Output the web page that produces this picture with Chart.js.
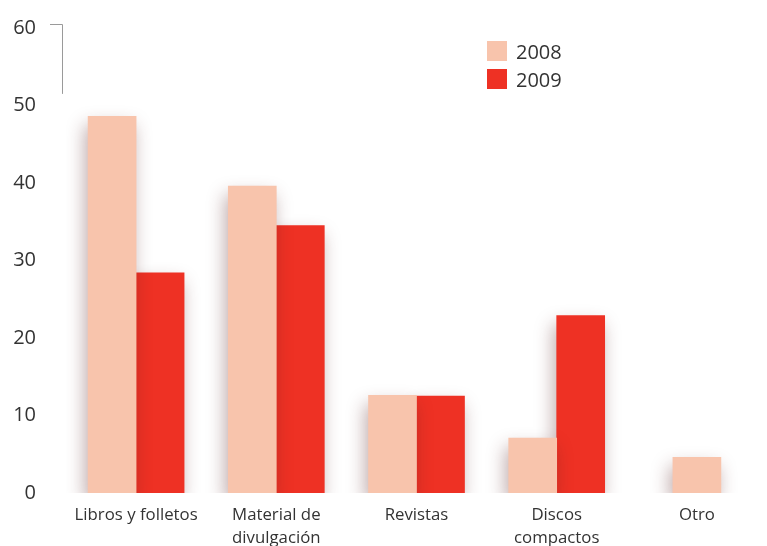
<!DOCTYPE html>
<html>
<head>
<meta charset="utf-8">
<script src="https://cdn.jsdelivr.net/npm/chart.js@4/dist/chart.umd.min.js"></script>
<style>
  body { margin: 0; background: #fff; font-family: "Open Sans", sans-serif; }
  #wrap { position: relative; width: 767px; height: 546px; }
  #legend { position: absolute; left: 487px; top: 37px; }
  .item { display: flex; align-items: center; height: 28px; font-size: 20px; color: #333; }
  .box { width: 20px; height: 20px; margin-right: 9px; }
</style>
</head>
<body>
<div id="wrap">
  <canvas id="barChart" width="767" height="546"></canvas>
  <div id="legend"></div>
</div>
<script>
let categories = ['Libros y folletos', ['Material de', 'divulgación'], 'Revistas', ['Discos', 'compactos'], 'Otro'];
let seriesNames = ['2008', '2009'];
let values2008 = [48.6, 39.6, 12.6, 7.1, 4.6];
let values2009 = [28.4, 34.5, 12.5, 22.9, null];
let yTicks = [0, 10, 20, 30, 40, 50, 60];
let colors = ['#f8c4ac', '#ee3124'];

// soft shadow under the bars
let shadowPlugin = {
  id: 'shadow',
  beforeDatasetsDraw(chart) {
    let ctx = chart.ctx;
    ctx.save();
    ctx.shadowColor = 'rgba(90, 35, 35, 0.38)';
    ctx.shadowBlur = 18;
    ctx.shadowOffsetX = -3;
    ctx.shadowOffsetY = 9;
  },
  afterDatasetsDraw(chart) {
    chart.ctx.restore();
  }
};

// short axis stub at the top left
let stubPlugin = {
  id: 'stub',
  afterDraw(chart) {
    let ctx = chart.ctx;
    let y = chart.scales.y;
    let x = chart.chartArea.left - 4;
    let top = y.getPixelForValue(60) - 4;
    ctx.save();
    ctx.strokeStyle = '#9a9a9a';
    ctx.lineWidth = 1;
    ctx.beginPath();
    ctx.moveTo(x - 12, top + 0.5);
    ctx.lineTo(x + 0.5, top + 0.5);
    ctx.lineTo(x + 0.5, y.getPixelForValue(51.5));
    ctx.stroke();
    ctx.restore();
  }
};

let barData = {
  labels: categories,
  datasets: [
    { label: seriesNames[0], data: values2008, backgroundColor: colors[0] },
    { label: seriesNames[1], data: values2009, backgroundColor: colors[1] }
  ]
};

let barOptions = {
  responsive: false,
  animation: false,
  layout: { padding: { top: 28, right: 0, bottom: 0, left: 0 } },
  datasets: { bar: { barThickness: 48, barPercentage: 0.96, skipNull: true } },
  plugins: { legend: { display: false }, tooltip: { enabled: false } },
  scales: {
    x: {
      afterFit(scale) { scale.height = 53; },
      grid: { display: false },
      border: { display: false },
      ticks: {
        color: '#333',
        font: { family: 'Open Sans', size: 16.8, lineHeight: 1.35 },
        padding: 3,
        maxRotation: 0,
        autoSkip: false
      }
    },
    y: {
      min: 0,
      max: 60,
      afterBuildTicks(scale) { scale.ticks = yTicks.map(v => ({ value: v })); },
      afterFit(scale) { scale.width = 66; },
      grid: { display: false, drawTicks: true, tickLength: 30 },
      border: { display: false },
      ticks: { color: '#333', font: { family: 'Open Sans', size: 20 }, padding: 0 }
    }
  }
};

new Chart(document.getElementById('barChart').getContext('2d'), {
  type: 'bar',
  data: barData,
  options: barOptions,
  plugins: [shadowPlugin, stubPlugin]
});

let legend = document.getElementById('legend');
seriesNames.forEach((name, i) => {
  legend.innerHTML += '<div class="item"><div class="box" style="background:' + colors[i] + '"></div>' + name + '</div>';
});
</script>
</body>
</html>
